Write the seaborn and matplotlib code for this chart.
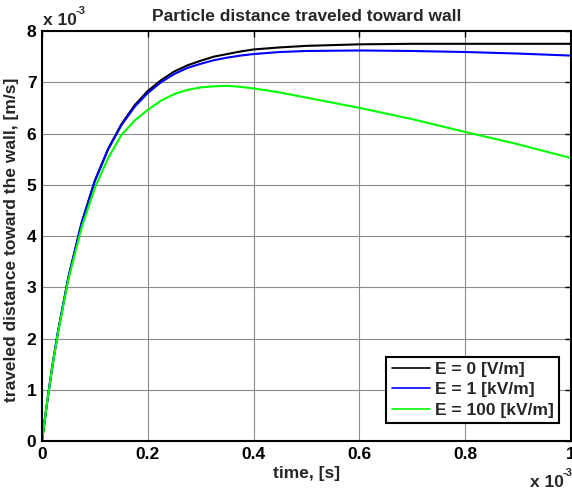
import numpy as np
import pandas as pd
import matplotlib
matplotlib.use('Agg')
import matplotlib.pyplot as plt
import seaborn as sns

# time axis and distances, both in units of 1e-3
t = [0, 0.01, 0.02, 0.03, 0.05, 0.075, 0.1, 0.125, 0.15, 0.175, 0.2, 0.225,
     0.25, 0.275, 0.3, 0.325, 0.35, 0.375, 0.4, 0.45, 0.5, 0.6, 0.7, 0.8, 0.9, 1.0]
d_0 = [0, 0.78, 1.49, 2.12, 3.20, 4.26, 5.08, 5.70, 6.18, 6.55, 6.83, 7.04,
       7.21, 7.33, 7.42, 7.50, 7.55, 7.60, 7.64, 7.68, 7.71, 7.74, 7.75, 7.75, 7.75, 7.75]
d_1k = [0, 0.78, 1.49, 2.12, 3.20, 4.26, 5.08, 5.69, 6.16, 6.52, 6.79, 7.00,
        7.16, 7.28, 7.36, 7.43, 7.48, 7.52, 7.55, 7.59, 7.61, 7.62, 7.61, 7.59, 7.56, 7.52]
d_100k = [0, 0.78, 1.48, 2.10, 3.16, 4.17, 4.94, 5.52, 5.97, 6.25, 6.46, 6.64,
          6.77, 6.85, 6.90, 6.92, 6.93, 6.91, 6.88, 6.80, 6.70, 6.50, 6.28, 6.03, 5.79, 5.52]
labels = ['E = 0 [V/m]', 'E = 1 [kV/m]', 'E = 100 [kV/m]']
colors = ['#000000', '#0000ff', '#00ff00']

df = pd.DataFrame({'t': t * 3,
                   'd': d_0 + d_1k + d_100k,
                   'E': [labels[0]] * len(t) + [labels[1]] * len(t) + [labels[2]] * len(t)})

sns.set_style('white')
plt.rcParams['font.family'] = ['Liberation Sans', 'DejaVu Sans']
plt.rcParams['font.weight'] = 'bold'

fs = 12.5
fig = plt.figure(figsize=(5.72, 4.94), dpi=100)
ax = fig.add_axes([42/572, 53/494, 529/572, 410/494])

sns.lineplot(data=df, x='t', y='d', hue='E', palette=colors, linewidth=1.5, ax=ax)

ax.set_xlim(0, 1)
ax.set_ylim(0, 8)
ax.set_xticks([0, 0.2, 0.4, 0.6, 0.8, 1])
ax.set_xticklabels(['0', '0.2', '0.4', '0.6', '0.8', '1'])
ax.set_yticks(range(9))
ax.grid(True, color='#8c8c8c', linewidth=0.8)
ax.tick_params(direction='in', length=4, width=1, top=True, right=True,
               labelsize=fs, colors='black', pad=4)
for s in ax.spines.values():
    s.set_color('black')
    s.set_linewidth(1.5)

ax.set_title('Particle distance traveled toward wall', fontsize=fs, fontweight='bold', pad=7)
ax.set_xlabel('time, [s]', fontsize=fs, fontweight='bold')
ax.set_ylabel('traveled distance toward the wall, [m/s]', fontsize=fs, fontweight='bold')
ax.xaxis.set_label_coords(0.5, -25/410)
ax.yaxis.set_label_coords(-23/529, 0.49)

# exponent labels, drawn like MATLAB does
fig.text(43/572, 1 - 25/494, 'x 10', fontsize=fs, fontweight='bold', ha='left', va='baseline')
fig.text(76/572, 1 - 14/494, '-3', fontsize=8, fontweight='bold', ha='left', va='baseline')
fig.text(530/572, 1 - 487/494, 'x 10', fontsize=fs, fontweight='bold', ha='left', va='baseline')
fig.text(563/572, 1 - 476/494, '-3', fontsize=8, fontweight='bold', ha='left', va='baseline')

leg = ax.legend(loc='lower right', bbox_to_anchor=(1 - 12/529, 18/410), fontsize=fs,
                frameon=True, fancybox=False, borderaxespad=0, borderpad=0.3,
                handlelength=2.2, handletextpad=0.3, labelspacing=0.3)
leg.get_frame().set_edgecolor('black')
leg.get_frame().set_linewidth(1.5)
leg.get_frame().set_alpha(1)
for txt in leg.get_texts():
    txt.set_fontweight('bold')
for ln in leg.get_lines():
    ln.set_linewidth(1.2)

fig.savefig('out.png', dpi=100)
